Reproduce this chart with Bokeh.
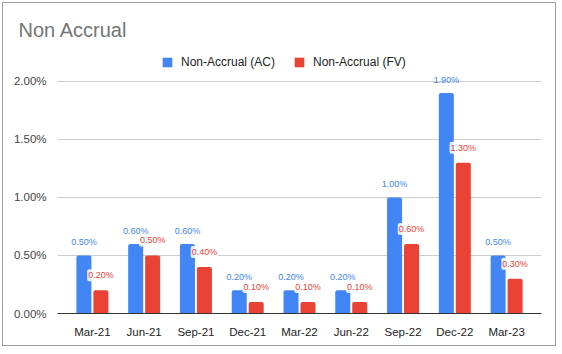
from bokeh.plotting import figure
from bokeh.models import (Range1d, FixedTicker, PrintfTickFormatter, ColumnDataSource,
                          Legend, LegendItem)
from bokeh.transform import dodge
from bokeh.core.properties import value
from bokeh.embed import file_html
from bokeh.resources import INLINE

categories = ["Mar-21", "Jun-21", "Sep-21", "Dec-21", "Mar-22", "Jun-22", "Sep-22", "Dec-22", "Mar-23"]
ac_values = [0.5, 0.6, 0.6, 0.2, 0.2, 0.2, 1.0, 1.9, 0.5]
fv_values = [0.2, 0.5, 0.4, 0.1, 0.1, 0.1, 0.6, 1.3, 0.3]
y_ticks = [0, 0.5, 1.0, 1.5, 2.0]
series_names = ["Non-Accrual (AC)", "Non-Accrual (FV)"]

BLUE = "#4285F4"
RED = "#EA4335"
FONT = "Liberation Sans"

idx = list(range(len(categories)))
src = ColumnDataSource(dict(
    x=idx,
    ac=ac_values,
    fv=fv_values,
    ac_lab=[f"{v:.2f}%" for v in ac_values],
    fv_lab=[f"{v:.2f}%" for v in fv_values],
))

p = figure(width=554, height=344, output_backend="svg", toolbar_location=None,
           x_range=Range1d(-0.674, len(categories) - 1 + 0.674),
           y_range=Range1d(0, 2.31),
           min_border_left=54, min_border_right=16, min_border_top=42, min_border_bottom=34)
p.styles = {"border": "1px solid #9e9e9e", "margin-left": "2px", "margin-top": "2px"}

p.title.text = "Non Accrual"
p.title.text_font = FONT
p.title.text_font_size = "20px"
p.title.text_font_style = "normal"
p.title.text_color = "#757575"
p.title.align = "left"
p.title.offset = -39

p.outline_line_color = None
p.background_fill_color = "white"
p.border_fill_color = "white"

off = 0.164
w = 0.29
r_ac = p.vbar(x=dodge("x", -off), top="ac", width=w, source=src, fill_color=BLUE, line_color=None,
              border_radius=(2, 2, 0, 0))
r_fv = p.vbar(x=dodge("x", off), top="fv", width=w, source=src, fill_color=RED, line_color=None,
              border_radius=(2, 2, 0, 0))

p.text(x=dodge("x", -off), y="ac", text="ac_lab", source=src, y_offset=-13,
       text_align="center", text_baseline="middle", text_font=value(FONT),
       text_font_size="9px", text_color=BLUE)
p.text(x=dodge("x", off), y="fv", text="fv_lab", source=src, y_offset=-15,
       text_align="center", text_baseline="middle", text_font=value(FONT),
       text_font_size="9px", text_color=RED,
       background_fill_color="white", background_fill_alpha=0.85, padding=1, border_radius=2)

p.xgrid.grid_line_color = None
p.ygrid.grid_line_color = "#cccccc"
p.ygrid.ticker = FixedTicker(ticks=y_ticks)

p.xaxis.ticker = FixedTicker(ticks=idx)
p.xaxis.major_label_overrides = {i: c for i, c in zip(idx, categories)}
p.xaxis.axis_line_color = "#333333"
p.xaxis.major_tick_line_color = None
p.xaxis.minor_tick_line_color = None
p.xaxis.major_label_text_font = FONT
p.xaxis.major_label_text_font_size = "11.5px"
p.xaxis.major_label_text_color = "#222222"
p.xaxis.major_label_standoff = 6

p.yaxis.ticker = FixedTicker(ticks=y_ticks)
p.yaxis.formatter = PrintfTickFormatter(format="%.2f%%")
p.yaxis.axis_line_color = None
p.yaxis.major_tick_line_color = None
p.yaxis.minor_tick_line_color = None
p.yaxis.major_label_text_font = FONT
p.yaxis.major_label_text_font_size = "11.5px"
p.yaxis.major_label_text_color = "#444444"
p.yaxis.major_label_standoff = 5

legend = Legend(items=[LegendItem(label=series_names[0], renderers=[r_ac]),
                       LegendItem(label=series_names[1], renderers=[r_fv])],
                orientation="horizontal", location=(104, 244),
                glyph_width=12, glyph_height=12, label_height=12,
                label_standoff=8, spacing=18, padding=5, margin=0,
                border_line_color=None, background_fill_alpha=0,
                label_text_font=FONT, label_text_font_size="12px",
                label_text_color="#222222")
p.add_layout(legend, "center")

open("out.html", "w").write(file_html(p, INLINE))
